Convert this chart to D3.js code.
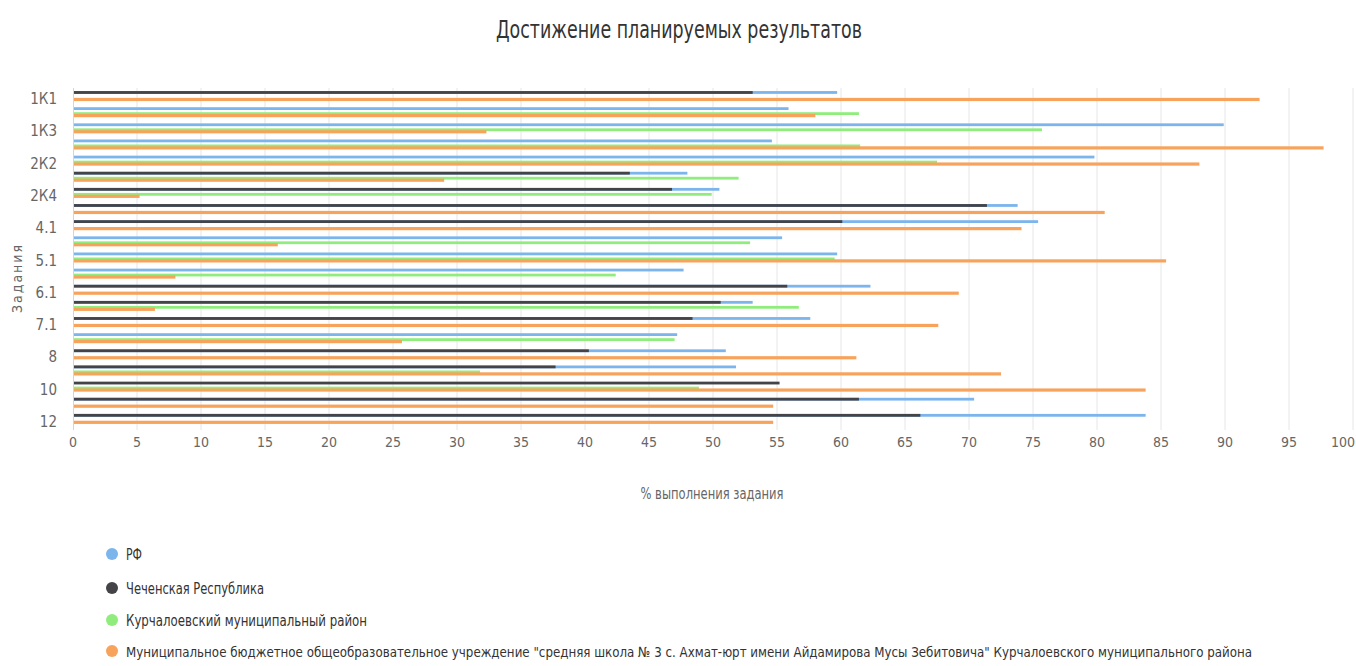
<!DOCTYPE html>
<html>
<head>
<meta charset="utf-8">
<script src="https://cdn.jsdelivr.net/npm/d3@7"></script>
<style>
  body { margin: 0; background: #fff; }
  text { font-family: "Liberation Sans Narrow", "DejaVu Sans Condensed", "Roboto", sans-serif; }
</style>
</head>
<body>
<div id="chart"></div>
<script>
var categories = ["1К1", "1К2", "1К3", "2К1", "2К2", "2К3", "2К4", "3", "4.1", "4.2", "5.1",
                  "5.2", "6.1", "6.2", "7.1", "7.2", "8", "9", "10", "11", "12"];
var shownLabels = ["1К1", "1К3", "2К2", "2К4", "4.1", "5.1", "6.1", "7.1", "8", "10", "12"];

var seriesNames = ["РФ", "Чеченская Республика", "Курчалоевский муниципальный район",
  "Муниципальное бюджетное общеобразовательное учреждение \"средняя школа № 3 с. Ахмат-юрт имени Айдамирова Мусы Зебитовича\" Курчалоевского муниципального района"];

var rf     = [59.7, 55.9, 89.9, 54.6, 79.8, 48.0, 50.5, 73.8, 75.4, 55.4, 59.7, 47.7, 62.3, 53.1, 57.6, 47.2, 51.0, 51.8, null, 70.4, 83.8];
var chechen = [53.1, null, null, null, null, 43.5, 46.8, 71.4, 60.1, null, null, null, 55.8, 50.6, 48.4, null, 40.3, 37.7, 55.2, 61.4, 66.2];
var kurch  = [null, 61.4, 75.7, 61.5, 67.5, 52.0, 49.9, null, null, 52.9, 59.5, 42.4, null, 56.7, null, 47.0, null, 31.8, 48.9, null, null];
var school = [92.7, 58.0, 32.3, 97.7, 88.0, 29.0, 5.2, 80.6, 74.1, 16.0, 85.4, 8.0, 69.2, 6.4, 67.6, 25.7, 61.2, 72.5, 83.8, 54.7, 54.7];

var xTicks = d3.range(0, 101, 5);
var colors = ["#7cb5ec", "#434348", "#90ed7d", "#f7a35c"];

var width = 1356, height = 666;
var margin = {left: 73, right: 3, top: 91, bottom: 236};

var svg = d3.select("#chart").append("svg")
    .attr("width", width)
    .attr("height", height);

var x = d3.scaleLinear().domain([0, 100]).range([margin.left, width - margin.right]);
var y = d3.scaleBand().domain(categories).range([margin.top, height - margin.bottom]).padding(0);

// row of each series inside a category band (the series overlap a lot)
var rowOffset = d3.scaleOrdinal().domain(seriesNames).range([-6.6, -6.6, -1.6, 0.4]);
var rowThick = d3.scaleOrdinal().domain(seriesNames).range([2.8, 2.8, 2.8, 3.2]);

// title
svg.append("text")
    .attr("x", 679).attr("y", 38)
    .attr("text-anchor", "middle")
    .attr("font-size", 25)
    .attr("fill", "#333")
    .attr("textLength", 366).attr("lengthAdjust", "spacingAndGlyphs")
    .text("Достижение планируемых результатов");

// grid
svg.append("g").selectAll("line")
    .data(xTicks.filter(function(d) { return d > 0; }))
    .enter().append("line")
    .attr("x1", function(d) { return x(d); })
    .attr("x2", function(d) { return x(d); })
    .attr("y1", margin.top - 3)
    .attr("y2", height - margin.bottom)
    .attr("stroke", "#e6e6e6")
    .attr("stroke-width", 1);

// left axis line
svg.append("line")
    .attr("x1", x(0) + 0.5).attr("x2", x(0) + 0.5)
    .attr("y1", margin.top - 3).attr("y2", height - margin.bottom)
    .attr("stroke", "#ccd6eb");

// bars
var series = [rf, chechen, kurch, school];
series.forEach(function(vals, si) {
    var name = seriesNames[si];
    svg.append("g").selectAll("rect")
        .data(vals.map(function(v, i) { return {cat: categories[i], v: v}; })
                  .filter(function(d) { return d.v !== null; }))
        .enter().append("rect")
        .attr("x", x(0) + 1)
        .attr("y", function(d) { return y(d.cat) + y.bandwidth() / 2 + rowOffset(name) - rowThick(name) / 2; })
        .attr("width", function(d) { return x(d.v) - x(0) - 1; })
        .attr("height", rowThick(name))
        .attr("fill", colors[si]);
});

// x axis labels (last one kept inside the picture)
svg.append("g").selectAll("text")
    .data(xTicks)
    .enter().append("text")
    .attr("x", function(d) { return d === 100 ? width - 1 : x(d); })
    .attr("y", height - margin.bottom + 17)
    .attr("text-anchor", function(d) { return d === 100 ? "end" : "middle"; })
    .attr("font-size", 14)
    .attr("fill", "#666")
    .text(function(d) { return d; });

// category labels
svg.append("g").selectAll("text")
    .data(shownLabels)
    .enter().append("text")
    .attr("x", 57)
    .attr("y", function(d) { return y(d) + y.bandwidth() / 2 + 5; })
    .attr("text-anchor", "end")
    .attr("font-size", 15)
    .attr("fill", "#666")
    .text(function(d) { return d; });

// axis titles
svg.append("text")
    .attr("x", 712).attr("y", 499)
    .attr("text-anchor", "middle")
    .attr("font-size", 15)
    .attr("fill", "#666")
    .attr("textLength", 143).attr("lengthAdjust", "spacingAndGlyphs")
    .text("% выполнения задания");

svg.append("text")
    .attr("transform", "translate(22,278) rotate(-90)")
    .attr("text-anchor", "middle")
    .attr("font-size", 14)
    .attr("fill", "#666")
    .attr("letter-spacing", 2)
    .text("Задания");

// legend
var legendY = [555, 589, 621, 652];
var legendW = [16, 138, 241, 1126];
var legendSize = [15, 15, 15, 14];
var legend = svg.append("g").selectAll("g")
    .data(seriesNames)
    .enter().append("g")
    .attr("transform", function(d, i) { return "translate(112," + legendY[i] + ")"; });

legend.append("circle")
    .attr("r", 6)
    .attr("cy", -1)
    .attr("fill", function(d, i) { return colors[i]; });

legend.append("text")
    .attr("x", 14)
    .attr("y", 5)
    .attr("font-size", function(d, i) { return legendSize[i]; })
    .attr("fill", "#333")
    .attr("textLength", function(d, i) { return legendW[i]; })
    .attr("lengthAdjust", "spacingAndGlyphs")
    .text(function(d) { return d; });
</script>
</body>
</html>
